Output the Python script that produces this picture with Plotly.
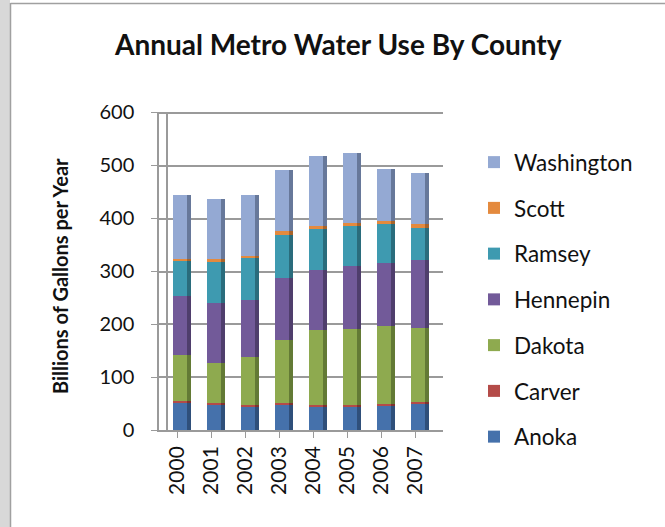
import plotly.graph_objects as go

years = ["2000", "2001", "2002", "2003", "2004", "2005", "2006", "2007"]
counties = ["Anoka", "Carver", "Dakota", "Hennepin", "Ramsey", "Scott", "Washington"]
anoka = [51, 48, 45, 48, 45, 45, 47, 49]
carver = [3, 3, 3, 3, 3, 3, 3, 4]
dakota = [88, 75, 89, 118, 141, 143, 147, 139]
hennepin = [111, 113, 109, 117, 112, 118, 118, 128]
ramsey = [65, 78, 78, 82, 78, 75, 73, 61]
scott = [4, 5, 4, 7, 6, 6, 7, 7]
washington = [121, 113, 115, 115, 132, 132, 97, 96]
series = [anoka, carver, dakota, hennepin, ramsey, scott, washington]
colors = ["#4571AB", "#B44B48", "#8EAA4F", "#725A99", "#3E9AB0", "#E48A3E", "#94A9D3"]
side_colors = ["#2F4F7A", "#7F3230", "#637A35", "#4F3E6C", "#2A6C7C", "#A9642A", "#67789A"]

W, H = 665, 527
FONT = "Lato"
GRID = "#9a9a9a"

fig = go.Figure()
xi = list(range(len(years)))
n = len(counties)

# invisible traces so that the front axes (x/y) and the back wall (y2) are drawn
fig.add_trace(go.Scatter(x=[None], y=[None], xaxis="x", yaxis="y", showlegend=False,
                         hoverinfo="skip"))
fig.add_trace(go.Scatter(x=[None], y=[None], xaxis="x", yaxis="y2", showlegend=False,
                         hoverinfo="skip"))

# bars sit at mid depth of the pseudo-3D box (yaxis3), between front axis and back wall
for i, (name, vals, c) in enumerate(zip(counties, series, colors)):
    fig.add_trace(go.Bar(x=xi, y=vals, name=name, marker=dict(color=c, line=dict(width=0)),
                         width=0.42, offset=-0.13, legendgroup=name, legendrank=n - i,
                         xaxis="x", yaxis="y3"))
for name, vals, c in zip(counties, series, side_colors):
    fig.add_trace(go.Bar(x=xi, y=vals, name=name, marker=dict(color=c, line=dict(width=0)),
                         width=0.13, offset=0.29, showlegend=False, legendgroup=name,
                         xaxis="x2", yaxis="y3", hoverinfo="skip"))


def px_x(p):
    return p / W


def px_y(p):
    return (H - p) / H


xr = [-0.5 - 1 / 34, 7.5 + 11 / 34]
ydom = [px_y(430), px_y(112)]
ydom2 = [px_y(422), px_y(103)]
ydom3 = [px_y(425.5), px_y(107.5)]
xdom = [px_x(159), px_x(443)]
ticks = [0, 100, 200, 300, 400, 500, 600]

fig.update_layout(
    width=W, height=H,
    margin=dict(l=0, r=0, t=0, b=0),
    paper_bgcolor="white", plot_bgcolor="white",
    barmode="stack", bargap=0,
    font=dict(family=FONT, color="#111111"),
    xaxis=dict(domain=xdom, range=xr, tickmode="array", tickvals=xi, ticktext=years,
               tickangle=-90, tickfont=dict(size=21, family=FONT, color="#111"),
               showline=True, linecolor=GRID, linewidth=1.5,
               ticks="outside", ticklen=6, tickcolor=GRID, showgrid=False,
               zeroline=False, automargin=False, fixedrange=True),
    xaxis2=dict(domain=xdom, range=xr, overlaying="x", visible=False, fixedrange=True),
    yaxis=dict(domain=ydom, range=[0, 600], tickvals=ticks,
               tickfont=dict(size=20, family=FONT, color="#111"),
               showline=True, linecolor=GRID, linewidth=1.5,
               ticks="outside", ticklen=6, tickcolor=GRID, ticklabelstandoff=13,
               showgrid=False, zeroline=False, automargin=False, fixedrange=True),
    yaxis2=dict(domain=ydom2, range=[0, 602], overlaying="y", anchor="free",
                position=px_x(167), side="left",
                tickvals=ticks, showticklabels=False,
                showline=True, linecolor=GRID, linewidth=1.5, ticks="",
                showgrid=True, gridcolor=GRID, gridwidth=1.5,
                zeroline=False, automargin=False, fixedrange=True),
    yaxis3=dict(domain=ydom3, range=[0, 600], overlaying="y", anchor="x",
                visible=False, fixedrange=True),
    legend=dict(x=px_x(474), y=px_y(141), xanchor="left", yanchor="top",
                traceorder="grouped", font=dict(size=22.5, family=FONT, color="#111"),
                tracegroupgap=13.5, itemwidth=30, bgcolor="rgba(0,0,0,0)"),
    showlegend=True,
    annotations=[
        dict(text="<b>Annual Metro Water Use By County</b>", x=px_x(338), y=px_y(44),
             xref="paper", yref="paper", showarrow=False, xanchor="center", yanchor="middle",
             font=dict(size=28, family=FONT, color="#111")),
        dict(text="<b>Billions of Gallons per Year</b>", x=px_x(60), y=px_y(276),
             xref="paper", yref="paper", showarrow=False, textangle=-90,
             xanchor="center", yanchor="middle",
             font=dict(size=20, family=FONT, color="#111")),
    ],
    shapes=[
        dict(type="rect", xref="paper", yref="paper", x0=0, x1=px_x(10), y0=0, y1=1,
             fillcolor="#d8d8d8", line=dict(width=0), layer="below"),
        dict(type="line", xref="paper", yref="paper", x0=px_x(10.5), x1=px_x(10.5), y0=0, y1=px_y(3),
             line=dict(color="#a0a0a0", width=1.5)),
        dict(type="line", xref="paper", yref="paper", x0=px_x(10.5), x1=1, y0=px_y(3.5), y1=px_y(3.5),
             line=dict(color="#a0a0a0", width=1.5)),
    ],
)

fig.write_html("out.html")
